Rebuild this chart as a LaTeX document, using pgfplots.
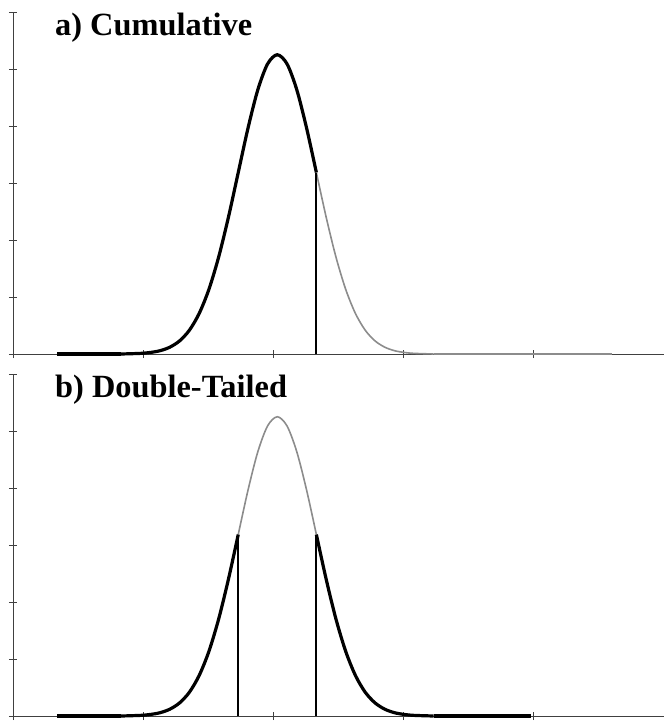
\documentclass[border=0pt]{standalone}
\usepackage{pgfplots}
\pgfplotsset{compat=1.18}
\usepackage{fontspec}
\setmainfont{Liberation Serif}

\pgfplotsset{
  panel/.style={
    scale only axis, width=651bp, height=342bp,
    xmin=0, xmax=5, ymin=0, ymax=6,
    xtick={0,1,2,3,4}, ytick={0,1,2,3,4,5,6},
    xticklabels={}, yticklabels={},
    axis x line=bottom, axis y line=left,
    axis line style={-, black!75, line width=0.8bp},
    tick style={black!75, line width=0.8bp},
    tick align=center, major tick length=8bp,
    clip=false,
  },
  dark/.style={black, line width=3.2bp, line join=round, smooth},
  light/.style={black!45, line width=1.6bp, line join=round, smooth},
  cut/.style={black, line width=1.8bp},
}

\begin{document}
\begin{tikzpicture}
% a) cumulative
\begin{axis}[panel, at={(0,0)}]
  \addplot[light] coordinates {
    (2.33,3.184) (2.405,2.403) (2.48,1.705) (2.555,1.136) (2.63,0.711)
    (2.705,0.418) (2.78,0.231) (2.855,0.120) (2.93,0.058) (3.005,0.027)
    (3.08,0.011) (3.23,0)};
  \addplot[black!45, line width=1.6bp] coordinates {(3.23,0) (4.6,0)};
  \addplot[black, line width=3.2bp] coordinates {(0.34,0) (0.83,0)};
  \addplot[dark] coordinates {
    (0.83,0) (0.98,0.011) (1.055,0.027) (1.13,0.058) (1.205,0.120)
    (1.28,0.231) (1.355,0.418) (1.43,0.711) (1.505,1.136) (1.58,1.705)
    (1.655,2.403) (1.73,3.184) (1.805,3.963) (1.88,4.633) (1.955,5.088)
    (2.03,5.25) (2.105,5.088) (2.18,4.633) (2.255,3.963) (2.33,3.184)};
  \addplot[cut] coordinates {(2.33,0) (2.33,3.184)};
\end{axis}
% b) double-tailed
\begin{axis}[panel, at={(0,-362bp)}]
  \addplot[light] coordinates {
    (1.73,3.184) (1.805,3.963) (1.88,4.633) (1.955,5.088) (2.03,5.25)
    (2.105,5.088) (2.18,4.633) (2.255,3.963) (2.33,3.184)};
  \addplot[black, line width=3.2bp] coordinates {(0.34,0) (0.83,0)};
  \addplot[dark] coordinates {
    (0.83,0) (0.98,0.011) (1.055,0.027) (1.13,0.058) (1.205,0.120)
    (1.28,0.231) (1.355,0.418) (1.43,0.711) (1.505,1.136) (1.58,1.705)
    (1.655,2.403) (1.73,3.184)};
  \addplot[dark] coordinates {
    (2.33,3.184) (2.405,2.403) (2.48,1.705) (2.555,1.136) (2.63,0.711)
    (2.705,0.418) (2.78,0.231) (2.855,0.120) (2.93,0.058) (3.005,0.027)
    (3.08,0.011) (3.23,0)};
  \addplot[black, line width=3.2bp] coordinates {(3.23,0) (3.98,0)};
  \addplot[cut] coordinates {(1.73,0) (1.73,3.184)};
  \addplot[cut] coordinates {(2.33,0) (2.33,3.184)};
\end{axis}
\node[anchor=base west, inner sep=0pt, font=\bfseries\fontsize{32.5}{36}\selectfont]
  at (42bp,318bp) {a) Cumulative};
\node[anchor=base west, inner sep=0pt, font=\bfseries\fontsize{32.5}{36}\selectfont]
  at (42bp,-43bp) {b) Double-Tailed};
\pgfresetboundingbox
\path (-13bp,-371bp) rectangle (651bp,354bp);
\end{tikzpicture}
\end{document}
